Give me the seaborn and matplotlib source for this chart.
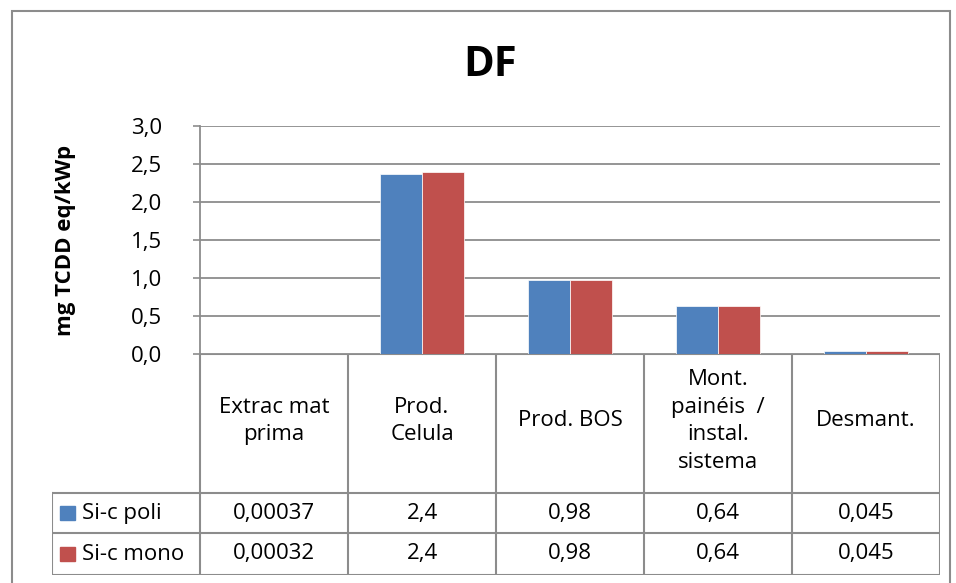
import pandas as pd
import matplotlib.pyplot as plt
from matplotlib.patches import Rectangle
import seaborn as sns

# Categories and series
categories = ["Extrac mat\nprima", "Prod.\nCelula", "Prod. BOS",
              "Mont.\npainéis  /\ninstal.\nsistema", "Desmant."]
series = ["Si-c poli", "Si-c mono"]
poli = [0.00037, 2.365, 0.975, 0.635, 0.045]
mono = [0.00032, 2.39, 0.975, 0.635, 0.045]
poli_labels = ["0,00037", "2,4", "0,98", "0,64", "0,045"]
mono_labels = ["0,00032", "2,4", "0,98", "0,64", "0,045"]
yticks = [0.0, 0.5, 1.0, 1.5, 2.0, 2.5, 3.0]
colors = ["#4F81BD", "#C0504D"]

df = pd.DataFrame({
    "cat": list(range(len(categories))) * 2,
    "serie": [series[0]] * len(poli) + [series[1]] * len(mono),
    "valor": poli + mono,
})

sns.set_style("white")
plt.rcParams["font.family"] = ["Open Sans", "DejaVu Sans"]
plt.rcParams["text.color"] = "black"
plt.rcParams["axes.labelcolor"] = "black"
plt.rcParams["ytick.labelcolor"] = "black"
grey = "#8C8C8C"
W, H = 956, 583
fs = 16

fig = plt.figure(figsize=(9.56, 5.83), dpi=100)

# outer chart border
fig.patches.append(Rectangle((12 / W, -0.1), 938 / W, 1.1 - 11 / H, transform=fig.transFigure,
                             fill=False, edgecolor=grey, lw=1.5))

ax = fig.add_axes([200 / W, (H - 354) / H, 740 / W, 228 / H])
sns.barplot(data=df, x="cat", y="valor", hue="serie", palette=colors, width=0.57,
            saturation=1, gap=0, edgecolor="white", linewidth=0.5, legend=False, ax=ax)
ax.set_xlim(-0.5, len(categories) - 0.5)
ax.set_ylim(0, 3.0)
ax.set_yticks(yticks)
ax.set_yticklabels([f"{t:.1f}".replace(".", ",") for t in yticks], fontsize=fs)
ax.tick_params(axis="y", left=True, length=5, color=grey, width=1.2, pad=22)
ax.set_xticks([])
ax.set_xlabel("")
ax.set_ylabel("mg TCDD eq/kWp", fontsize=16, fontweight="bold", labelpad=40)
ax.grid(axis="y", color=grey, lw=1.3)
ax.set_axisbelow(True)
for s in ["top", "right", "bottom"]:
    ax.spines[s].set_visible(False)
ax.spines["left"].set_color(grey)
ax.spines["left"].set_linewidth(1.3)

fig.text(490 / W, 1 - 65 / H, "DF", ha="center", va="center", fontsize=30, fontweight="bold")

# data table under the axis
tab = fig.add_axes([52 / W, (H - 575) / H, 888 / W, 221 / H])
tab.set_xlim(-1.5, len(categories) - 0.5)
tab.set_ylim(221, 0)
tab.axis("off")
n = len(categories)
kw = dict(color=grey, lw=1.5, solid_capstyle="projecting")
for i in range(n + 1):
    tab.plot([i - 0.5, i - 0.5], [0, 221], **kw)
tab.plot([-1.5, -1.5], [139, 221], **kw)
for yy in [139, 179, 221]:
    tab.plot([-1.5, n - 0.5], [yy, yy], **kw)
tab.plot([-0.5, n - 0.5], [0, 0], **kw)

for i, c in enumerate(categories):
    tab.text(i, 67, c, ha="center", va="center", fontsize=fs, linespacing=1.4)
for row_y, name, col, labels in [(159, series[0], colors[0], poli_labels),
                                 (200, series[1], colors[1], mono_labels)]:
    tab.add_patch(Rectangle((-1.5 + 0.055, row_y - 7), 0.1, 14, color=col))
    tab.text(-1.5 + 0.2, row_y, name, ha="left", va="center", fontsize=fs)
    for i, lab in enumerate(labels):
        tab.text(i, row_y, lab, ha="center", va="center", fontsize=fs)

fig.savefig("out.png", dpi=100)
